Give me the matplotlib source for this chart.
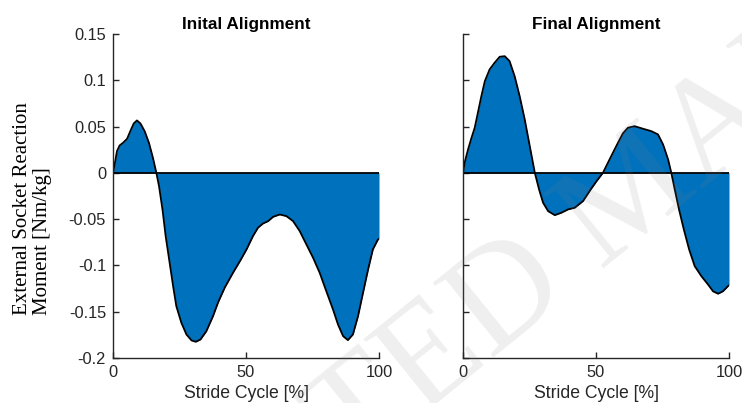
import matplotlib
matplotlib.use("Agg")
import matplotlib.pyplot as plt

# Stride cycle [%] und Moment [Nm/kg]
x_init = [0, 0.8, 1.5, 2.5, 3.8, 5.3, 6.5, 7.8, 9.0, 10.3, 11.9, 13.5, 15.0, 16.3, 17.3,
          18.6, 19.8, 21.1, 22.6, 23.8, 25.7, 27.6, 29.5, 31.1, 32.9, 35.1, 37.6, 39.5,
          42.0, 45.1, 48.0, 50.2, 52.6, 54.5, 56.4, 58.3, 60.2, 62.7, 65.2, 67.7, 70.2,
          72.7, 75.2, 77.7, 80.2, 82.7, 84.6, 86.5, 88.3, 90.2, 92.1, 94.0, 95.9, 97.7,
          99.6, 100]
y_init = [0.0, 0.012, 0.0235, 0.0296, 0.0325, 0.0368, 0.045, 0.0534, 0.0566, 0.0534,
          0.045, 0.0325, 0.0163, 0.0, -0.0144, -0.0395, -0.0684, -0.0935, -0.1224, -0.144,
          -0.162, -0.1746, -0.181, -0.1825, -0.180, -0.171, -0.1548, -0.140, -0.124, -0.108,
          -0.094, -0.0827, -0.0684, -0.0593, -0.0547, -0.0522, -0.0475, -0.045, -0.0468,
          -0.0522, -0.063, -0.0774, -0.0917, -0.108, -0.128, -0.1476, -0.164, -0.1764,
          -0.1807, -0.1746, -0.155, -0.1295, -0.1044, -0.0827, -0.072, -0.0715]

x_final = [0, 0.7, 1.9, 3.2, 4.4, 5.6, 6.9, 8.2, 10.0, 11.9, 13.8, 15.7, 17.5, 19.4, 21.3,
           23.2, 25.1, 27.0, 28.6, 30.1, 32.0, 34.5, 37.0, 39.5, 42.0, 45.1, 48.0, 50.2,
           52.6, 55.1, 57.6, 60.1, 62.0, 64.5, 67.7, 70.8, 73.3, 75.2, 77.1, 78.3, 79.6,
           81.2, 83.0, 85.0, 87.1, 89.6, 92.1, 94.0, 95.9, 97.7, 99.6, 100]
y_final = [0.0, 0.012, 0.0253, 0.0379, 0.0487, 0.065, 0.0828, 0.099, 0.1117, 0.119,
           0.1254, 0.126, 0.1207, 0.1045, 0.0828, 0.0577, 0.0288, 0.0, -0.018, -0.0323,
           -0.0414, -0.0457, -0.0431, -0.0395, -0.0377, -0.0306, -0.018, -0.009, 0.0,
           0.0145, 0.0288, 0.0426, 0.0487, 0.0504, 0.0476, 0.045, 0.0415, 0.0307, 0.0145,
           0.0, -0.018, -0.0395, -0.061, -0.0827, -0.1008, -0.1116, -0.1206, -0.128,
           -0.1306, -0.128, -0.1224, -0.1215]

titles = ["Inital Alignment", "Final Alignment"]
blau = "#0072BD"
grau = "#262626"

plt.rcParams["font.family"] = "Liberation Sans"

fig = plt.figure(figsize=(7.42, 4.03), dpi=100)
ax1 = fig.add_axes([0.1523, 0.1117, 0.3585, 0.804])
ax2 = fig.add_axes([0.624, 0.1117, 0.3585, 0.804])

for ax, xs, ys, title in [(ax1, x_init, y_init, titles[0]), (ax2, x_final, y_final, titles[1])]:
    ax.fill_between(xs, ys, 0, color=blau, lw=0)
    ax.plot(xs, ys, color="k", lw=1.3, solid_joinstyle="round")
    ax.plot([xs[0], xs[-1]], [0, 0], color="k", lw=1.3)

    ax.set_xlim(0, 100)
    ax.set_ylim(-0.2, 0.15)
    ax.set_xticks([0, 50, 100])
    ax.set_yticks([-0.2, -0.15, -0.1, -0.05, 0, 0.05, 0.1, 0.15])
    ax.set_title(title, fontsize=12.3, fontweight="bold", pad=3.5)
    ax.set_xlabel("Stride Cycle [%]", fontsize=12.7, color=grau, labelpad=4)

    ax.spines["top"].set_visible(False)
    ax.spines["right"].set_visible(False)
    for s in ["left", "bottom"]:
        ax.spines[s].set_color(grau)
        ax.spines[s].set_linewidth(1.0)
    ax.tick_params(direction="in", length=4, width=1.0, colors=grau, labelsize=11.8, pad=5)

ax1.set_yticklabels(["-0.2", "-0.15", "-0.1", "-0.05", "0", "0.05", "0.1", "0.15"])
ax2.set_yticklabels([])

ax1.set_ylabel("External Socket Reaction\nMoment [Nm/kg]", family="Liberation Serif",
               fontsize=15, color="k", linespacing=1.05, multialignment="left")
ax1.yaxis.set_label_coords(-0.23, 0.461)

# Wasserzeichen
fig.text(0.858, 0.514, "ACCEPTED MANUSCRIPT", family="Liberation Serif", fontsize=105,
         color="gray", alpha=0.13, rotation=39, rotation_mode="anchor",
         ha="center", va="center", zorder=10)

plt.savefig("out.png", dpi=100)
